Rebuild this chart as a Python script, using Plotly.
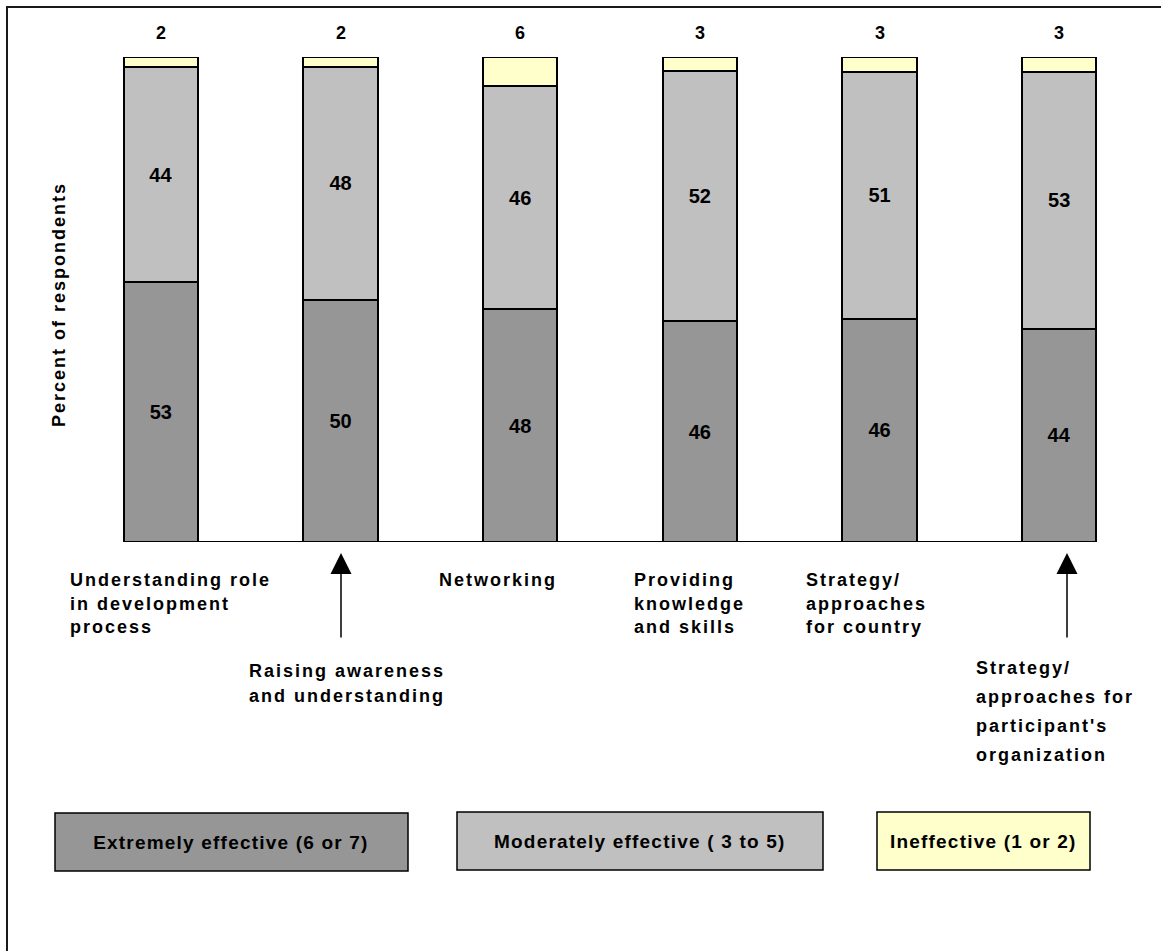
import json
import plotly.graph_objects as go

# Effectiveness ratings per activity (percent of respondents)
categories = [
    "Understanding role in development process",
    "Raising awareness and understanding",
    "Networking",
    "Providing knowledge and skills",
    "Strategy/ approaches for country",
    "Strategy/ approaches for participant's organization",
]
tick_labels = [
    ["Understanding role", "in development", "process"],
    ["Raising awareness", "and understanding"],
    ["Networking"],
    ["Providing", "knowledge", "and skills"],
    ["Strategy/", "approaches", "for country"],
    ["Strategy/", "approaches for", "participant's", "organization"],
]
series_names = [
    "Extremely effective (6 or 7)",
    "Moderately effective ( 3 to 5)",
    "Ineffective (1 or 2)",
]
extremely = [53, 50, 48, 46, 46, 44]
moderately = [44, 48, 46, 52, 51, 53]
ineffective = [2, 2, 6, 3, 3, 3]
y_title = "Percent of respondents"

colors = ["#969696", "#C0C0C0", "#FFFFCC"]
FONT = "Liberation Sans, Arial, sans-serif"

W, H = 1161, 951
ML, MR, MT, MB = 71, 12, 57, 409
PW, PH = W - ML - MR, H - MT - MB
BARGAP = 0.588


def px_x(px):
    return (px - ML) / PW


def px_y(py):
    return (H - MB - py) / PH


fig = go.Figure()
for name, vals, col, show_text in zip(
    series_names, [extremely, moderately, ineffective], colors, [True, True, False]
):
    fig.add_trace(
        go.Bar(
            x=categories,
            y=vals,
            name=name,
            marker=dict(color=col, line=dict(color="#000000", width=2)),
            text=[str(v) for v in vals] if show_text else None,
            texttemplate="%{text}" if show_text else None,
            textposition="inside" if show_text else "none",
            insidetextanchor="middle",
            textangle=0,
            textfont=dict(family=FONT, size=20, color="#000000", weight="bold"),
            showlegend=False,
            hoverinfo="skip",
        )
    )

annotations = []
spacing = {}

# values of the top segment, written above each bar
for cat, v in zip(categories, ineffective):
    annotations.append(
        dict(
            x=cat, y=100, xref="x", yref="y", yshift=24, text=str(v),
            showarrow=False, font=dict(family=FONT, size=18, color="#000000", weight="bold"),
        )
    )

# category labels: left edge, first baseline, line step, arrow x
label_layout = [
    (68, 586, 23.5, None),
    (247, 677, 24.5, 341),
    (437, 586, 23.5, None),
    (632, 586, 23.5, None),
    (804, 586, 23.5, None),
    (974, 674, 29.0, 1067),
]
for lines, (left, base, step, arrow_x) in zip(tick_labels, label_layout):
    for k, line in enumerate(lines):
        spacing[str(len(annotations))] = 2
        annotations.append(
            dict(
                x=px_x(left), y=px_y(base + k * step - 6), xref="paper", yref="paper",
                xanchor="left", yanchor="middle", text=line, showarrow=False, align="left",
                font=dict(family=FONT, size=18, color="#000000", weight="bold"),
            )
        )
    if arrow_x is not None:
        annotations.append(
            dict(
                x=px_x(arrow_x), y=px_y(553), xref="paper", yref="paper",
                ax=0, ay=86, axref="pixel", ayref="pixel", text="",
                showarrow=True, arrowhead=2, arrowsize=2.8, arrowwidth=1.5,
                arrowcolor="#000000", standoff=0,
            )
        )

# y axis title
spacing[str(len(annotations))] = 2
annotations.append(
    dict(
        x=px_x(59), y=px_y(305), xref="paper", yref="paper", text=y_title,
        textangle=-90, showarrow=False, xanchor="center", yanchor="middle",
        font=dict(family=FONT, size=18, color="#000000", weight="bold"),
    )
)

shapes = []
# outer frame
shapes.append(
    dict(
        type="rect", xref="paper", yref="paper",
        x0=px_x(7), x1=px_x(1300), y0=px_y(7), y1=px_y(1100),
        line=dict(color="#1a1a1a", width=2), fillcolor="rgba(0,0,0,0)", layer="below",
    )
)
# baseline under the bars
half = (1 - BARGAP) / 2
shapes.append(
    dict(
        type="line", xref="x", yref="y", x0=-half, x1=len(categories) - 1 + half,
        y0=0, y1=0, line=dict(color="#000000", width=2),
    )
)

# key boxes
key_boxes = [(55, 813, 408, 871), (457, 812, 823, 870), (877, 812, 1090, 870)]
for name, col, (x0, y0, x1, y1) in zip(series_names, colors, key_boxes):
    shapes.append(
        dict(
            type="rect", xref="paper", yref="paper",
            x0=px_x(x0), x1=px_x(x1), y0=px_y(y1), y1=px_y(y0),
            line=dict(color="#000000", width=1.5), fillcolor=col,
        )
    )
    spacing[str(len(annotations))] = 1.2
    annotations.append(
        dict(
            x=px_x((x0 + x1) / 2), y=px_y((y0 + y1) / 2), xref="paper", yref="paper",
            text=name, showarrow=False, xanchor="center", yanchor="middle",
            font=dict(family=FONT, size=19, color="#000000", weight="bold"),
        )
    )

fig.update_layout(
    width=W, height=H,
    margin=dict(l=ML, r=MR, t=MT, b=MB),
    barmode="stack", barnorm="percent", bargap=BARGAP,
    paper_bgcolor="#ffffff", plot_bgcolor="#ffffff",
    xaxis=dict(visible=False, range=[-0.5, len(categories) - 0.5]),
    yaxis=dict(visible=False, range=[0, 100]),
    annotations=annotations, shapes=shapes,
    font=dict(family=FONT, color="#000000"),
)

# letter spacing for the label texts
post_js = """
var gd = document.getElementById('{plot_id}');
var spacing = %s;
gd.querySelectorAll('g.annotation').forEach(function (g) {
  var k = g.getAttribute('data-index');
  if (spacing[k] !== undefined) {
    g.querySelectorAll('text').forEach(function (t) {
      t.style.letterSpacing = spacing[k] + 'px';
    });
  }
});
""" % json.dumps(spacing)

fig.write_html("out.html", post_script=post_js)
